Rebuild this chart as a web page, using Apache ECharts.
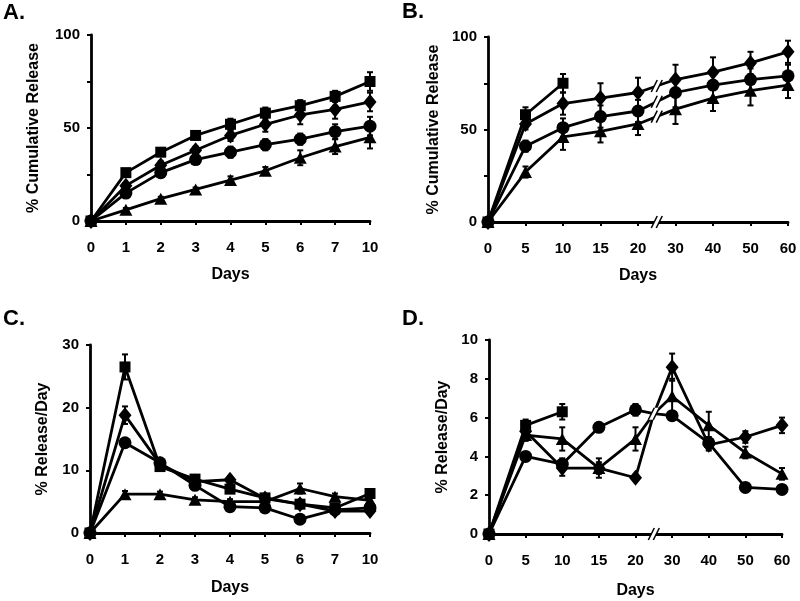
<!DOCTYPE html>
<html>
<head>
<meta charset="utf-8">
<title>Release profiles</title>
<script src="https://cdn.jsdelivr.net/npm/echarts@6/dist/echarts.min.js"></script>
<style>
  html, body { margin: 0; padding: 0; background: #fff; }
  #main { width: 800px; height: 601px; }
</style>
</head>
<body>
<div id="main"></div>
<script>
  // x tick labels (categories, equally spaced)
  var daysShort = ['0', '1', '2', '3', '4', '5', '6', '7', '10'];
  var daysLong = ['0', '5', '10', '15', '20', '30', '40', '50', '60'];

  // A. cumulative release, days 0-10
  var squareA = [0, 26, 37, 46, 52, 58, 62, 67, 75];
  var squareAErr = [0, 1, 2, 2, 3, 3, 3, 3, 5];
  var diamondA = [0, 19, 30, 38, 46, 52, 57, 60, 64];
  var diamondAErr = [0, 1, 2, 2, 3, 4, 5, 5, 5];
  var circleA = [0, 15, 26, 33, 37, 41, 44, 48, 51];
  var circleAErr = [0, 1, 2, 2, 3, 3, 3, 4, 5];
  var triangleA = [0, 6, 12, 17, 22, 27, 34, 40, 45];
  var triangleAErr = [0, 1, 1, 1, 2, 2, 4, 4, 6];

  // B. cumulative release, days 0-60
  var squareB = [0, 58, 75, null, null, null, null, null, null];
  var squareBErr = [0, 4, 5, 0, 0, 0, 0, 0, 0];
  var diamondB = [0, 53, 64, 67, 70, 77, 81, 86, 92];
  var diamondBErr = [0, 3, 6, 8, 8, 8, 8, 6, 6];
  var circleB = [0, 41, 51, 57, 60, 70, 74, 77, 79];
  var circleBErr = [0, 3, 5, 6, 6, 8, 7, 6, 6];
  var triangleB = [0, 27, 46, 49, 53, 61, 67, 71, 74];
  var triangleBErr = [0, 3, 7, 6, 6, 8, 7, 8, 7];

  // C. release per day, days 0-10
  var squareC = [0, 26.5, 10.6, 8.6, 7.0, 5.6, 4.6, 4.0, 6.3];
  var squareCErr = [0, 2.0, 0.5, 0.5, 0.5, 0.4, 0.4, 0.3, 0.4];
  var diamondC = [0, 18.8, 11.0, 8.2, 8.5, 5.5, 4.6, 3.5, 3.5];
  var diamondCErr = [0, 1.4, 0.6, 0.5, 0.5, 0.4, 0.3, 0.3, 0.3];
  var circleC = [0, 14.4, 11.2, 7.6, 4.2, 4.0, 2.2, 3.7, 4.0];
  var circleCErr = [0, 0.6, 0.5, 0.4, 0.3, 0.3, 0.3, 0.3, 0.3];
  var triangleC = [0, 6.2, 6.2, 5.3, 5.0, 5.0, 7.1, 5.8, 5.2];
  var triangleCErr = [0, 0.5, 0.4, 0.4, 0.4, 0.4, 0.8, 0.5, 0.5];

  // D. release per day, days 0-60
  var squareD = [0, 5.6, 6.3, null, null, null, null, null, null];
  var squareDErr = [0, 0.3, 0.4, 0, 0, 0, 0, 0, 0];
  var diamondD = [0, 5.3, 3.4, 3.4, 2.9, 8.6, 4.6, 5.0, 5.6];
  var diamondDErr = [0, 0.3, 0.4, 0.3, 0.1, 0.7, 0.3, 0.3, 0.4];
  var circleD = [0, 4.0, 3.6, 5.5, 6.4, 6.1, 4.7, 2.4, 2.3];
  var circleDErr = [0, 0.2, 0.3, 0.2, 0.3, 0.2, 0.3, 0.2, 0.1];
  var triangleD = [0, 5.1, 4.9, 3.4, 4.9, 7.1, 5.6, 4.2, 3.1];
  var triangleDErr = [0, 0.3, 0.6, 0.5, 0.6, 0.9, 0.7, 0.3, 0.3];
  // in D all lines meet at the axis break
  var breakD = 6.2;

  var FONT = 'Liberation Sans, Arial, Helvetica, sans-serif';

  var grids = [
    {left: 91, top: 35, width: 279, height: 186},
    {left: 488, top: 37, width: 300, height: 185},
    {left: 90, top: 345, width: 280, height: 188},
    {left: 489, top: 340, width: 293, height: 194}
  ];

  var markers = {
    square: {symbol: 'rect', size: 11},
    diamond: {symbol: 'diamond', size: [13, 16]},
    circle: {symbol: 'circle', size: 13},
    triangle: {symbol: 'triangle', size: [13, 12]}
  };

  function xAxis(i, labels, nameGap) {
    return {
      gridIndex: i,
      type: 'value',
      min: 0,
      max: 8,
      interval: 1,
      name: 'Days',
      nameLocation: 'middle',
      nameGap: nameGap,
      nameTextStyle: {fontFamily: FONT, fontWeight: 'bold', fontSize: 16, color: '#000'},
      axisLine: {show: true, onZero: false, lineStyle: {color: '#000', width: 2.8}},
      axisTick: {show: true, inside: false, length: 4, lineStyle: {color: '#000', width: 2}},
      splitLine: {show: false},
      axisLabel: {
        margin: 19,
        fontFamily: FONT, fontWeight: 'bold', fontSize: 15, color: '#000',
        formatter: function (v) { return labels[v]; }
      }
    };
  }

  function yAxis(i, name, max, interval, every, nameGap) {
    return {
      gridIndex: i,
      type: 'value',
      min: 0,
      max: max,
      interval: interval,
      name: name,
      nameLocation: 'middle',
      nameGap: nameGap,
      nameTextStyle: {fontFamily: FONT, fontWeight: 'bold', fontSize: 16, color: '#000'},
      axisLine: {show: true, lineStyle: {color: '#000', width: 2.8}},
      axisTick: {show: true, inside: false, length: 4, lineStyle: {color: '#000', width: 2}},
      splitLine: {show: false},
      axisLabel: {
        margin: 11,
        fontFamily: FONT, fontWeight: 'bold', fontSize: 15, color: '#000',
        formatter: function (v) { return v % every === 0 ? String(v) : ''; }
      }
    };
  }

  function renderErr(params, api) {
    var x = api.value(0), y = api.value(1), e = api.value(2);
    if (!e) return;
    var top = api.coord([x, y + e]);
    var bot = api.coord([x, y - e]);
    var st = {stroke: '#000', lineWidth: 2};
    return {
      type: 'group',
      children: [
        {type: 'line', shape: {x1: top[0], y1: top[1], x2: bot[0], y2: bot[1]}, style: st},
        {type: 'line', shape: {x1: top[0] - 3, y1: top[1], x2: top[0] + 3, y2: top[1]}, style: st},
        {type: 'line', shape: {x1: bot[0] - 3, y1: bot[1], x2: bot[0] + 3, y2: bot[1]}, style: st}
      ]
    };
  }

  // "//" break symbol
  function renderBreak(params, api) {
    var p = api.coord([api.value(0), api.value(1)]);
    var x = p[0], y = p[1], h = 6, s = 3, g = 2.5;
    var st = {stroke: '#000', lineWidth: 1.5};
    return {
      type: 'group',
      children: [
        {type: 'polygon', shape: {points: [[x - g - s, y + h], [x - g + s, y - h], [x + g + s, y - h], [x + g - s, y + h]]},
          style: {fill: '#fff'}},
        {type: 'line', shape: {x1: x - g - s, y1: y + h, x2: x - g + s, y2: y - h}, style: st},
        {type: 'line', shape: {x1: x + g - s, y1: y + h, x2: x + g + s, y2: y - h}, style: st}
      ]
    };
  }

  var series = [];

  function addPanel(i, sets, breakVal) {
    sets.forEach(function (s) {
      var m = markers[s.kind];
      var pts = [];
      var errs = [];
      s.data.forEach(function (v, k) {
        if (v === null) return;
        pts.push([k, v]);
        errs.push([k, v, s.err[k]]);
        if (k === 4 && breakVal !== undefined && s.data[5] !== null) {
          pts.push({value: [4.5, breakVal], symbol: 'none'});
        }
      });
      series.push({
        type: 'custom',
        xAxisIndex: i,
        yAxisIndex: i,
        renderItem: renderErr,
        clip: false,
        z: 1,
        data: errs
      });
      series.push({
        type: 'line',
        xAxisIndex: i,
        yAxisIndex: i,
        symbol: m.symbol,
        symbolSize: m.size,
        showSymbol: true,
        z: 2,
        itemStyle: {color: '#000'},
        lineStyle: {color: '#000', width: 2.8},
        data: pts
      });
    });
  }

  addPanel(0, [
    {kind: 'triangle', data: triangleA, err: triangleAErr},
    {kind: 'circle', data: circleA, err: circleAErr},
    {kind: 'diamond', data: diamondA, err: diamondAErr},
    {kind: 'square', data: squareA, err: squareAErr}
  ]);
  addPanel(1, [
    {kind: 'triangle', data: triangleB, err: triangleBErr},
    {kind: 'circle', data: circleB, err: circleBErr},
    {kind: 'diamond', data: diamondB, err: diamondBErr},
    {kind: 'square', data: squareB, err: squareBErr}
  ]);
  addPanel(2, [
    {kind: 'triangle', data: triangleC, err: triangleCErr},
    {kind: 'circle', data: circleC, err: circleCErr},
    {kind: 'diamond', data: diamondC, err: diamondCErr},
    {kind: 'square', data: squareC, err: squareCErr}
  ]);
  addPanel(3, [
    {kind: 'triangle', data: triangleD, err: triangleDErr},
    {kind: 'circle', data: circleD, err: circleDErr},
    {kind: 'diamond', data: diamondD, err: diamondDErr},
    {kind: 'square', data: squareD, err: squareDErr}
  ], breakD);

  // break marks: on the x axes and on the lines crossing the gap
  var breaksB = [[4.5, 0]];
  [diamondB, circleB, triangleB].forEach(function (d) {
    breaksB.push([4.5, (d[4] + d[5]) / 2]);
  });
  series.push({type: 'custom', xAxisIndex: 1, yAxisIndex: 1, renderItem: renderBreak, clip: false, z: 5, data: breaksB});
  series.push({type: 'custom', xAxisIndex: 3, yAxisIndex: 3, renderItem: renderBreak, clip: false, z: 5,
    data: [[4.5, 0], [4.5, breakD]]});

  var myChart = echarts.init(document.getElementById('main'));
  myChart.setOption({
    animation: false,
    backgroundColor: '#fff',
    grid: grids,
    xAxis: [
      xAxis(0, daysShort, 46),
      xAxis(1, daysLong, 46),
      xAxis(2, daysShort, 47),
      xAxis(3, daysLong, 49)
    ],
    yAxis: [
      yAxis(0, '% Cumulative Release', 100, 25, 50, 49),
      yAxis(1, '% Cumulative Release', 100, 25, 50, 46),
      yAxis(2, '% Release/Day', 30, 10, 10, 39),
      yAxis(3, '% Release/Day', 10, 2, 2, 38)
    ],
    graphic: [
      {type: 'text', left: 3, top: 2, style: {text: 'A.', font: 'bold 22px ' + FONT, fill: '#000'}},
      {type: 'text', left: 402, top: 1, style: {text: 'B.', font: 'bold 22px ' + FONT, fill: '#000'}},
      {type: 'text', left: 3, top: 308, style: {text: 'C.', font: 'bold 22px ' + FONT, fill: '#000'}},
      {type: 'text', left: 402, top: 308, style: {text: 'D.', font: 'bold 22px ' + FONT, fill: '#000'}}
    ],
    series: series
  });
</script>
</body>
</html>
